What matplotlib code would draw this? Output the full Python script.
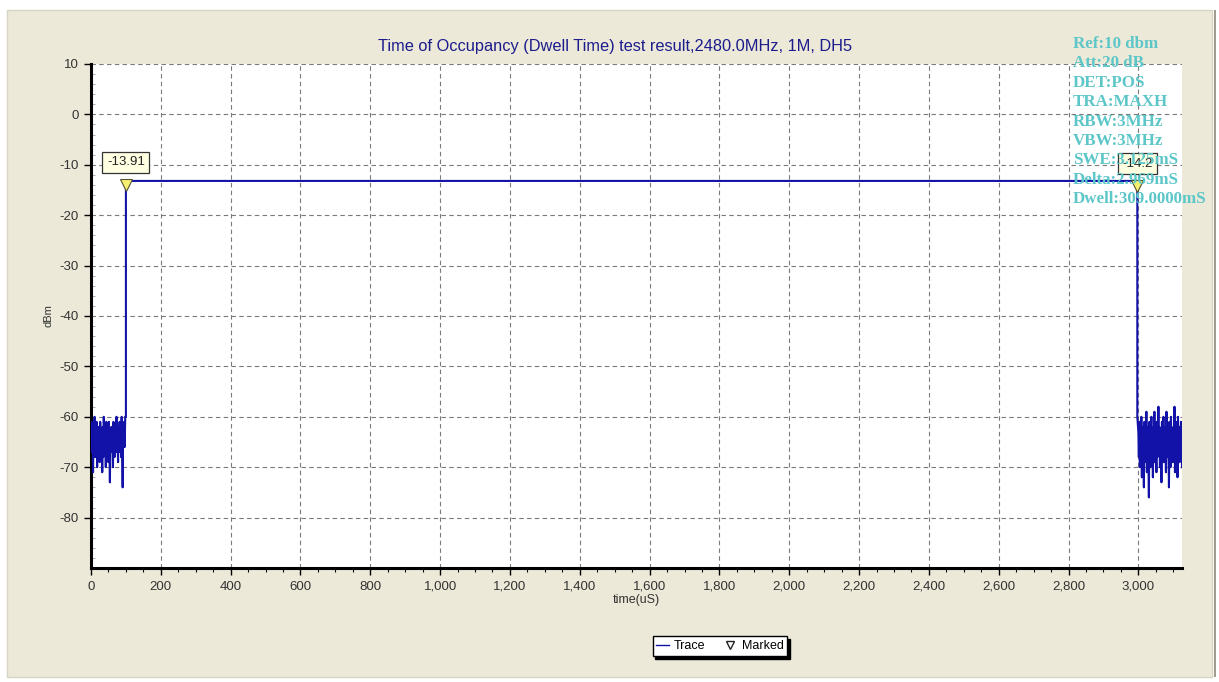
import numpy as np
import matplotlib
matplotlib.use("Agg")
import matplotlib.pyplot as plt
from matplotlib.lines import Line2D
from matplotlib.patches import Rectangle
from matplotlib.ticker import MultipleLocator, FuncFormatter

plt.rcParams['font.family'] = ['Liberation Sans', 'DejaVu Sans']
plt.rcParams['axes.unicode_minus'] = False

# noise floor before burst (0..98 uS) and after burst (3000..3125 uS)
noise_left = [-67, -61, -66, -63, -71, -62, -65, -60, -68, -64, -66, -61, -70, -63, -67, -62,
              -65, -69, -61, -64, -66, -63, -71, -62, -68, -60, -65, -67, -63, -70, -61, -66,
              -64, -62, -69, -61, -65, -73, -63, -67, -62, -66, -64, -70, -61, -65, -68, -63,
              -62, -67, -60, -66, -64, -69, -62, -65, -61, -67, -63, -68, -60, -66, -74, -62,
              -64, -61, -66, -60]
noise_right = [-63, -68, -61, -70, -64, -66, -60, -72, -62, -67, -65, -74, -61, -69, -63, -66,
               -59, -71, -64, -62, -68, -76, -61, -65, -70, -63, -60, -67, -64, -72, -62, -66,
               -59, -69, -63, -65, -71, -61, -68, -64, -58, -67, -62, -70, -65, -63, -73, -61,
               -66, -64, -60, -69, -62, -67, -65, -71, -59, -63, -68, -62, -66, -74, -61, -64,
               -70, -60, -67, -63, -65, -69, -62, -66, -58, -71, -64, -61, -68, -63, -72, -60,
               -66, -64, -69, -62, -67, -61, -65, -70]

# burst edges: rise at 100 uS, fall at 2997 uS
rise_t = [100, 100, 100]
rise_v = [-60, -48, -13.2]
fall_t = [2997, 2997, 2997]
fall_v = [-13.2, -30.5, -60]

marker_t = [100, 2997]
marker_v = [-13.91, -14.2]
marker_txt = ['-13.91', '-14.2']

info = ['Ref:10 dbm', 'Att:20 dB', 'DET:POS', 'TRA:MAXH', 'RBW:3MHz', 'VBW:3MHz',
        'SWE:3.125mS', 'Delta:2.969mS', 'Dwell:309.0000mS']

left_t = np.linspace(0, 98, len(noise_left))
right_t = np.linspace(3000, 3125, len(noise_right))
trace_t = np.concatenate([left_t, rise_t, fall_t, right_t])
trace_v = np.concatenate([noise_left, rise_v, fall_v, noise_right])

W, H = 1219, 682
fig = plt.figure(figsize=(W / 100, H / 100), dpi=100, facecolor='white')
fig.patches.append(Rectangle((7 / W, 5 / H), 1205 / W, 667 / H, transform=fig.transFigure,
                             facecolor='#ECE9D8', edgecolor='#d8d5c4', lw=1, zorder=-10))
fig.patches.append(Rectangle((1214 / W, 5 / H), 2 / W, 667 / H, transform=fig.transFigure,
                             facecolor='#a09d90', edgecolor='none', zorder=-10))

ax = fig.add_axes([91 / W, 1 - 568 / H, (1182 - 91) / W, (568 - 64) / H])
ax.set_facecolor('white')
ax.plot(trace_t, trace_v, color='#1212a8', lw=1.5, zorder=3)
ax.plot(marker_t, marker_v, ls='none', marker='v', ms=8, mfc='#f5f070', mec='#555533',
        mew=0.8, zorder=5)
for t, v, s in zip(marker_t, marker_v, marker_txt):
    ax.annotate(s, (t, v), xytext=(0, 16), textcoords='offset points', ha='center',
                va='center', fontsize=9.5, color='#222222', zorder=6,
                bbox=dict(boxstyle='square,pad=0.35', fc='#FFFFE1', ec='#333333', lw=0.9))

ax.set_xlim(0, 3125)
ax.set_ylim(-90, 10)
ax.xaxis.set_major_locator(MultipleLocator(200))
ax.xaxis.set_minor_locator(MultipleLocator(50))
ax.yaxis.set_minor_locator(MultipleLocator(2))
ax.xaxis.set_major_formatter(FuncFormatter(lambda x, p: f'{x:,.0f}'))
ax.set_yticks(np.arange(-80, 11, 10))
ax.grid(True, which='major', color='#7a7a7a', ls=(0, (4, 3)), lw=0.8)
for s in ['top', 'right']:
    ax.spines[s].set_visible(False)
for s in ['left', 'bottom']:
    ax.spines[s].set_linewidth(2.2)
ax.tick_params(axis='both', which='major', direction='out', length=5, width=1,
               labelsize=9.5, labelcolor='#333333', pad=4)
ax.tick_params(axis='x', which='minor', direction='out', length=3, width=0.8)
ax.tick_params(axis='y', which='minor', direction='in', length=3, width=0.6, color='#999999')
ax.set_xlabel('time(uS)', fontsize=9, color='#333333', labelpad=1)
ax.set_ylabel('dBm', fontsize=8, color='#333333', labelpad=4)

fig.text(615 / W, 1 - 47 / H, 'Time of Occupancy (Dwell Time) test result,2480.0MHz, 1M, DH5',
         ha='center', va='center', fontsize=11.8, color='#1c1c8c')

for i, s in enumerate(info):
    fig.text(1073 / W, 1 - (44 + i * 19.4) / H, s, ha='left', va='center', fontsize=12.2,
             fontweight='bold', family='Liberation Serif', color='#5cc6c8', zorder=10)

handles = [Line2D([], [], color='#1212a8', lw=1),
           Line2D([], [], ls='none', marker='v', mfc='white', mec='#222222', ms=6)]
fig.legend(handles, ['Trace', 'Marked'], ncol=2, loc='center',
           bbox_to_anchor=(720 / W, 1 - 646 / H), fontsize=9, frameon=True, fancybox=False,
           edgecolor='black', facecolor='white', framealpha=1, handlelength=1,
           handletextpad=0.4, columnspacing=1.5, borderpad=0.3,
           shadow={'color': 'black', 'alpha': 1})

fig.savefig('out.png', dpi=100)
